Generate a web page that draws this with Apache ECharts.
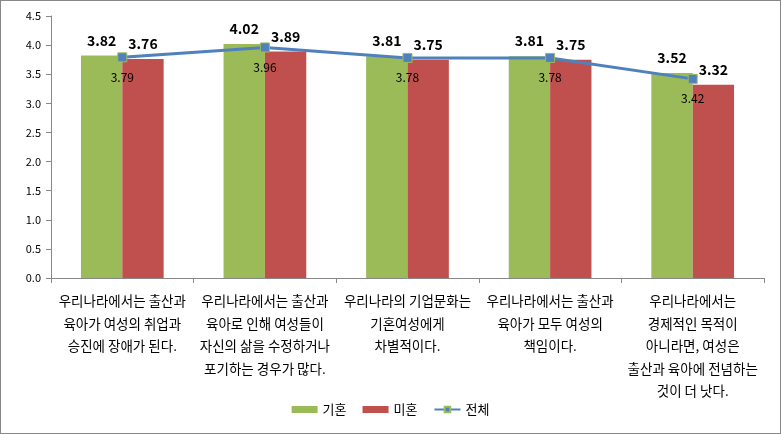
<!DOCTYPE html>
<html><head><meta charset="utf-8">
<script src="https://cdn.jsdelivr.net/npm/echarts@6/dist/echarts.min.js"></script>
<style>html,body{margin:0;padding:0;background:#fff}#c{width:781px;height:434px;box-sizing:border-box;border:1px solid #888}</style>
</head><body><div id="c"></div>
<script>
const categories = [
  '우리나라에서는 출산과\n육아가 여성의 취업과\n승진에 장애가 된다.',
  '우리나라에서는 출산과\n육아로 인해 여성들이\n자신의 삶을 수정하거나\n포기하는 경우가 많다.',
  '우리나라의 기업문화는\n기혼여성에게\n차별적이다.',
  '우리나라에서는 출산과\n육아가 모두 여성의\n책임이다.',
  '우리나라에서는\n경제적인 목적이\n아니라면, 여성은\n출산과 육아에 전념하는\n것이 더 낫다.'
];
const married = [3.82, 4.02, 3.81, 3.81, 3.52];
const unmarried = [3.76, 3.89, 3.75, 3.75, 3.32];
const total = [3.79, 3.96, 3.78, 3.78, 3.42];
const seriesNames = ['기혼', '미혼', '전체'];

const font = '"Noto Sans CJK KR", "Noto Sans", sans-serif';
const chart = echarts.init(document.getElementById('c'));
chart.setOption({
  animation: false,
  textStyle: { fontFamily: font },
  grid: { left: 50, right: 16, top: 15, bottom: 155 },
  legend: {
    bottom: 12, left: 'center', itemWidth: 26, itemHeight: 7, itemGap: 16,
    textStyle: { fontSize: 13, color: '#000', fontFamily: font },
    data: [
      { name: seriesNames[0], icon: 'rect' },
      { name: seriesNames[1], icon: 'rect' },
      { name: seriesNames[2] }
    ]
  },
  xAxis: {
    type: 'category', data: categories,
    axisLine: { lineStyle: { color: '#888' } },
    axisTick: { show: true, alignWithLabel: false, length: 5, lineStyle: { color: '#888' } },
    axisLabel: { interval: 0, fontSize: 13.5, color: '#000', lineHeight: 22.5, margin: 12, fontFamily: font }
  },
  yAxis: {
    type: 'value', min: 0, max: 4.5, interval: 0.5,
    axisLine: { show: true, lineStyle: { color: '#888' } },
    axisTick: { show: true, inside: false, length: 5, lineStyle: { color: '#888' } },
    splitLine: { show: false },
    axisLabel: { fontSize: 11, color: '#000', margin: 10, formatter: v => v.toFixed(1), fontFamily: font }
  },
  series: [
    {
      name: seriesNames[0], type: 'bar', data: married, barGap: '0%', barCategoryGap: '42%',
      itemStyle: { color: '#9BBB59' },
      label: { show: true, position: 'top', distance: 8, fontSize: 14, fontWeight: 'bold', color: '#000', formatter: p => p.value.toFixed(2) }
    },
    {
      name: seriesNames[1], type: 'bar', data: unmarried,
      itemStyle: { color: '#C0504D' },
      label: { show: true, position: 'top', distance: 8, fontSize: 14, fontWeight: 'bold', color: '#000', formatter: p => p.value.toFixed(2) }
    },
    {
      name: seriesNames[2], type: 'line', data: total,
      symbol: 'rect', symbolSize: 9,
      lineStyle: { color: '#4F81BD', width: 3 },
      itemStyle: { color: '#4F81BD', borderColor: '#9BBB59', borderWidth: 1 },
      label: { show: true, position: 'bottom', distance: 9, fontSize: 12, color: '#000', formatter: p => p.value.toFixed(2) },
      z: 5
    }
  ]
});
</script></body></html>
